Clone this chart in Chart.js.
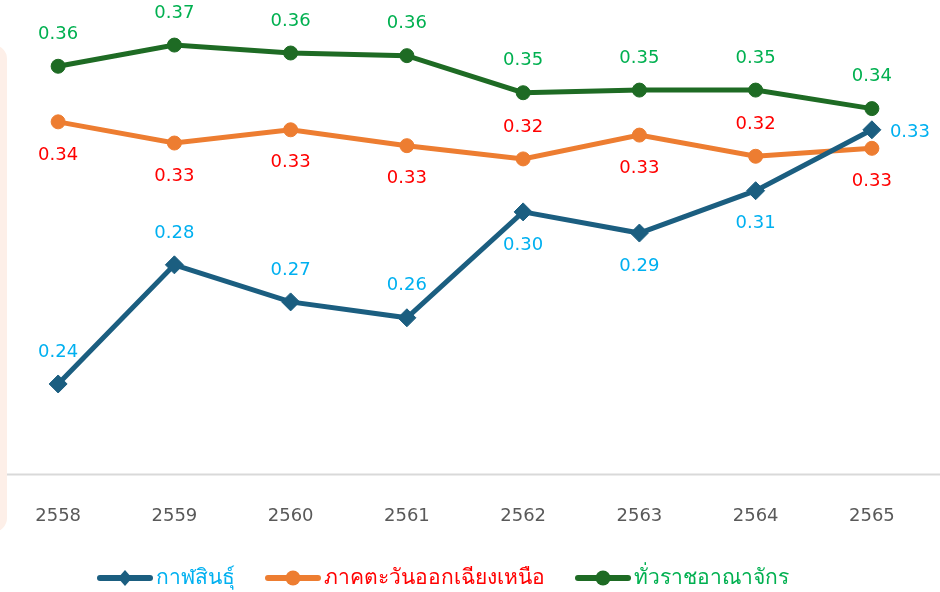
<!DOCTYPE html>
<html>
<head>
<meta charset="utf-8">
<script src="https://cdn.jsdelivr.net/npm/chart.js@4.4.1/dist/chart.umd.min.js"></script>
<style>
  html, body { margin: 0; padding: 0; background: #ffffff; }
  #wrap { position: relative; width: 940px; height: 592px; }
</style>
</head>
<body>
<div id="wrap"><canvas id="c" width="940" height="592"></canvas></div>
<script>
// ---- data ----
const years = ['2558', '2559', '2560', '2561', '2562', '2563', '2564', '2565'];
const seriesNames = ['กาฬสินธุ์', 'ภาคตะวันออกเฉียงเหนือ', 'ทั่วราชอาณาจักร'];
const kalasin = [0.238, 0.283, 0.269, 0.263, 0.303, 0.295, 0.311, 0.334];
const northeast = [0.337, 0.329, 0.334, 0.328, 0.323, 0.332, 0.324, 0.327];
const kingdom = [0.358, 0.366, 0.363, 0.362, 0.348, 0.349, 0.349, 0.342];
// label placement relative to each point
const kalasinLabelPos = ['above', 'above', 'above', 'above', 'below', 'below', 'below', 'right'];
const northeastLabelPos = ['below', 'below', 'below', 'below', 'above', 'below', 'above', 'below'];
const kingdomLabelPos = ['above', 'above', 'above', 'above', 'above', 'above', 'above', 'above'];

// ---- styles ----
const lineColors = ['#1b5e80', '#ed7d31', '#1e6b24'];
const labelColors = ['#00b0f0', '#ff0000', '#00b050'];
const pointStyles = ['rectRot', 'circle', 'circle'];
const labelFont = '18px "DejaVu Sans", sans-serif';
const legendFont = '21px "Noto Sans", "DejaVu Sans", sans-serif';

const backdropPlugin = {
  id: 'backdrop',
  beforeDraw(chart) {
    const ctx = chart.ctx;
    ctx.save();
    ctx.fillStyle = '#fdefe8';
    ctx.beginPath();
    ctx.roundRect(-30, 45, 37, 487, 14);
    ctx.fill();
    ctx.restore();
  }
};

const axisLinePlugin = {
  id: 'axisLine',
  beforeDatasetsDraw(chart) {
    const ctx = chart.ctx;
    const y = Math.round(chart.chartArea.bottom) + 0.5;
    ctx.save();
    ctx.strokeStyle = '#d9d9d9';
    ctx.lineWidth = 2;
    ctx.beginPath();
    ctx.moveTo(7, y);
    ctx.lineTo(940, y);
    ctx.stroke();
    ctx.restore();
  }
};

const dataLabelPlugin = {
  id: 'dataLabels',
  afterDatasetsDraw(chart) {
    const ctx = chart.ctx;
    const placements = [kalasinLabelPos, northeastLabelPos, kingdomLabelPos];
    ctx.save();
    ctx.font = labelFont;
    ctx.textBaseline = 'middle';
    chart.data.datasets.forEach((ds, di) => {
      const meta = chart.getDatasetMeta(di);
      ctx.fillStyle = labelColors[di];
      meta.data.forEach((pt, i) => {
        const txt = ds.data[i].toFixed(2);
        const pos = placements[di][i];
        let x = pt.x, y = pt.y;
        ctx.textAlign = 'center';
        if (pos === 'above') y -= 32;
        else if (pos === 'below') y += 33;
        else if (pos === 'right') { x += 18; ctx.textAlign = 'left'; y += 3; }
        ctx.fillText(txt, x, y);
      });
    });
    ctx.restore();
  }
};

const legendPlugin = {
  id: 'customLegend',
  afterDraw(chart) {
    const ctx = chart.ctx;
    ctx.save();
    ctx.font = legendFont;
    ctx.textBaseline = 'middle';
    ctx.textAlign = 'left';
    const symW = 56, gapText = 3, gapItem = 30, yC = 578;
    const widths = seriesNames.map(n => symW + gapText + ctx.measureText(n).width);
    const total = widths.reduce((a, b) => a + b, 0) + gapItem * (seriesNames.length - 1);
    let x = 443 - total / 2;
    seriesNames.forEach((n, i) => {
      ctx.strokeStyle = lineColors[i];
      ctx.lineWidth = 6;
      ctx.lineCap = 'round';
      ctx.beginPath();
      ctx.moveTo(x + 3, yC);
      ctx.lineTo(x + symW - 3, yC);
      ctx.stroke();
      ctx.fillStyle = lineColors[i];
      const cx = x + symW / 2;
      ctx.beginPath();
      if (pointStyles[i] === 'rectRot') {
        ctx.moveTo(cx, yC - 8); ctx.lineTo(cx + 7, yC); ctx.lineTo(cx, yC + 8); ctx.lineTo(cx - 7, yC);
        ctx.closePath();
      } else {
        ctx.arc(cx, yC, 7.5, 0, Math.PI * 2);
      }
      ctx.fill();
      ctx.fillStyle = labelColors[i];
      ctx.fillText(n, x + symW + gapText, yC);
      x += widths[i] + gapItem;
    });
    ctx.restore();
  }
};

const seriesData = [kalasin, northeast, kingdom];
const datasets = seriesData.map((d, i) => ({
  label: seriesNames[i],
  data: d,
  borderColor: lineColors[i],
  backgroundColor: lineColors[i],
  borderWidth: 5,
  pointStyle: pointStyles[i],
  pointRadius: pointStyles[i] === 'rectRot' ? 9 : 7,
  pointBorderWidth: 1,
  pointHoverRadius: 8,
  tension: 0,
  order: i
}));

new Chart(document.getElementById('c'), {
  type: 'line',
  data: { labels: years, datasets },
  options: {
    responsive: false,
    animation: false,
    layout: { autoPadding: false, padding: { left: 0, right: 10, top: 8, bottom: 0 } },
    plugins: { legend: { display: false }, tooltip: { enabled: false } },
    scales: {
      x: {
        offset: true,
        grid: { display: false },
        border: { display: false },
        ticks: { color: '#595959', font: { family: '"DejaVu Sans", sans-serif', size: 18 }, padding: 24 },
        afterFit(scale) { scale.height = 118; scale.paddingLeft = 0; scale.paddingRight = 0; }
      },
      y: { display: false, min: 0.204, max: 0.38 }
    }
  },
  plugins: [backdropPlugin, axisLinePlugin, dataLabelPlugin, legendPlugin]
});
</script>
</body>
</html>
